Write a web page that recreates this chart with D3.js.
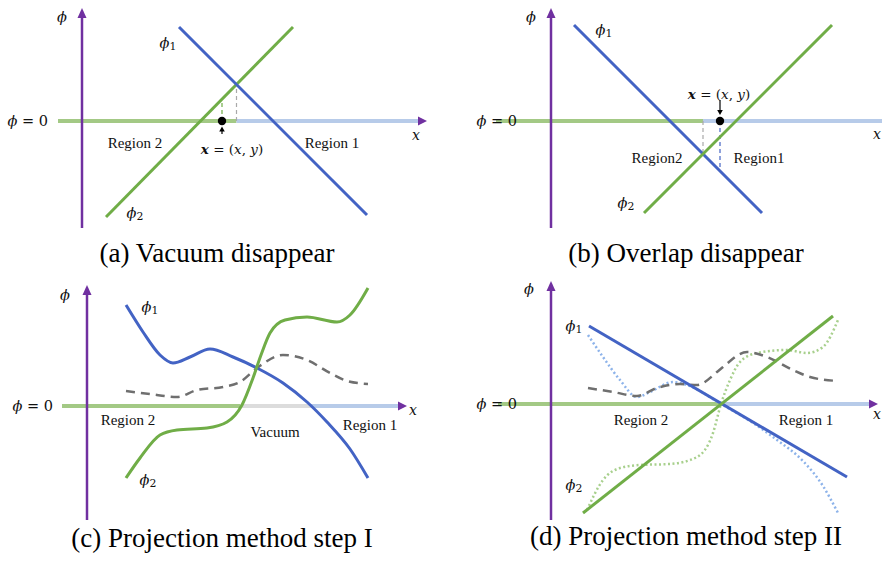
<!DOCTYPE html>
<html>
<head>
<meta charset="utf-8">
<script src="https://cdn.jsdelivr.net/npm/d3@7"></script>
<style>
  body { margin: 0; background: #fff; }
</style>
</head>
<body>
<svg id="fig"></svg>
<script>
// ---- data (units: panel-local, origin where the phi axis meets phi = 0) ----
const captions = ["(a) Vacuum disappear", "(b) Overlap disappear",
                  "(c) Projection method step I", "(d) Projection method step II"];

// (a) vacuum disappear
const aPhi1 = [[9.7, 9.4], [28.5, -9.4]];
const aPhi2 = [[2.4, -9.6], [21.1, 9.4]];
const aCross = [15.45, 3.65];
const aPoint = [14.0, 0];
const aPhi2AtPoint = 2.2;
const aZero = [["region2", -2.4, 15.45], ["region1", 15.45, 34.0]];

// (b) overlap disappear
const bPhi1 = [[2.3, 9.6], [21.1, -9.2]];
const bPhi2 = [[9.3, -9.2], [28.1, 9.6]];
const bCross = [15.2, -3.3];
const bPoint = [16.9, 0];
const bPhi1AtPoint = -4.6;
const bZero = [["region2", -5.5, 15.2], ["region1", 15.2, 34.0]];

// (c) projection step I
const cPhi1 = [[3.9, 10.1], [5.6, 7.4], [7.3, 5.1], [8.6, 4.3], [10.3, 4.9], [12.3, 5.7],
               [14.6, 4.9], [17.0, 3.8], [19.6, 2.3], [22.0, 0.4], [24.0, -1.6],
               [26.3, -4.3], [28.1, -7.2]];
const cPhi2 = [[3.9, -7.2], [5.3, -5.2], [7.3, -2.9], [9.0, -2.4], [12.0, -2.2], [14.0, -1.6],
               [15.5, 0.1], [16.6, 2.8], [17.4, 5.1], [18.3, 7.3], [19.8, 8.6], [22.0, 8.9],
               [25.0, 8.4], [26.3, 9.1], [28.1, 11.8]];
const cMean = [[3.9, 1.5], [6.3, 1.2], [9.0, 0.9], [11.0, 1.6], [13.6, 1.9], [15.3, 2.4],
               [17.0, 3.8], [19.6, 5.1], [22.0, 4.6], [24.3, 3.3], [26.0, 2.5], [28.1, 2.2]];
const cZero = [["region2", -2.5, 15.3], ["vacuum", 15.3, 22.4], ["region1", 22.4, 31.6]];

// (d) projection step II
const dPhi1 = [[3.8, 7.8], [29.6, -7.3]];
const dPhi2 = [[3.2, -10.9], [28.2, 8.8]];
const dPhi1Old = [[3.7, 6.9], [5.2, 4.7], [6.9, 2.4], [8.6, 0.7], [9.9, 1.2], [12.2, 2.2],
                  [13.6, 1.9], [17.0, 0], [19.9, -1.7], [22.6, -3.6], [25.2, -5.7],
                  [27.2, -8.2], [28.7, -10.9]];
const dPhi2Old = [[3.6, -10.6], [5.2, -7.6], [6.9, -6.4], [8.9, -6.1], [11.9, -6.0],
                  [14.6, -5.3], [16.2, -2.9], [17.0, 0], [17.9, 2.4], [18.9, 4.2], [20.6, 5.1],
                  [23.6, 5.4], [25.6, 5.1], [27.2, 5.7], [28.7, 8.4]];
const dMean = [[3.7, 1.6], [6.2, 1.2], [8.6, 0.8], [10.6, 1.6], [12.9, 2.0], [14.6, 1.9],
               [16.6, 3.2], [17.2, 3.7], [19.6, 5.2], [21.6, 4.7], [24.2, 3.4], [25.9, 2.7],
               [28.7, 2.3]];
const dZero = [["region2", -5.3, 17.0], ["region1", 17.0, 31.8]];

// axis extents [bottom, top] of phi axis, and tip of the x arrow
const phiAxis = { a: [-10.7, 11.3], b: [-10.7, 11.3], c: [-11.4, 12.1], d: [-11.6, 12.3] };
const xTip = { a: 34.5, b: 34.6, c: 32.0, d: 32.7 };

// ---- layout / style ----
const W = 882, H = 564;
const origin = { a: [82, 121], b: [551, 121], c: [87, 406], d: [551, 404] };
const col = {
  axis: "#7030a0", phi1: "#4363c4", phi2: "#70ad47",
  region2: "#a3c985", region1: "#b7cbe9", vacuum: "#dcdcdc",
  mean: "#6f6f6f", phi1Old: "#8db3ea", phi2Old: "#a8d08d"
};
const serif = "'Liberation Serif', 'DejaVu Serif'";
const math = "'DejaVu Serif', serif";

const svg = d3.select("#fig").attr("width", W).attr("height", H)
  .attr("viewBox", [0, 0, W, H]);

const x = d3.scaleLinear().domain([0, 10]).range([0, 100]);
const y = d3.scaleLinear().domain([0, 10]).range([0, -100]);

const straight = d3.line().x(d => x(d[0])).y(d => y(d[1]));
const smooth = d3.line().x(d => x(d[0])).y(d => y(d[1])).curve(d3.curveMonotoneX);

function arrowHead(g, px, py, dir, len, half, color) {
  // dir: "right" | "up" | "down"
  let pts;
  if (dir === "right") pts = [[px, py], [px - len, py - half], [px - len, py + half]];
  else if (dir === "up") pts = [[px, py], [px - half, py + len], [px + half, py + len]];
  else pts = [[px, py], [px - half, py - len], [px + half, py - len]];
  g.append("path").attr("d", "M" + pts.join("L") + "Z").attr("fill", color);
}

function phiText(g, ux, uy, sub, size = 14.5) {
  const t = g.append("text")
    .attr("x", x(ux)).attr("y", y(uy))
    .attr("text-anchor", "middle").attr("dominant-baseline", "central")
    .attr("font-family", math).attr("font-style", "italic")
    .attr("font-size", size).attr("fill", "#111");
  t.append("tspan").text("ϕ");
  if (sub) t.append("tspan").attr("font-size", size * 0.75).attr("font-style", "normal")
    .attr("dy", 3).text(sub);
}

function plain(g, ux, uy, str, size = 15) {
  g.append("text").attr("x", x(ux)).attr("y", y(uy))
    .attr("text-anchor", "middle").attr("dominant-baseline", "central")
    .attr("font-family", serif).attr("font-size", size).attr("fill", "#111").text(str);
}

function pointText(g, ux, uy) {
  const t = g.append("text").attr("x", x(ux)).attr("y", y(uy))
    .attr("text-anchor", "middle").attr("dominant-baseline", "central")
    .attr("font-family", math).attr("font-size", 13.5).attr("fill", "#111");
  t.append("tspan").attr("font-style", "italic").attr("font-weight", "bold").text("x");
  t.append("tspan").text(" = (");
  t.append("tspan").attr("font-style", "italic").text("x");
  t.append("tspan").text(", ");
  t.append("tspan").attr("font-style", "italic").text("y");
  t.append("tspan").text(")");
}

function panelBase(key, zero, idx) {
  const g = svg.append("g").attr("id", "panel-" + key)
    .attr("transform", `translate(${origin[key][0]},${origin[key][1]})`);

  // phi = 0 line, coloured by region
  g.append("g").selectAll("line").data(zero).join("line")
    .attr("x1", d => x(d[1])).attr("x2", d => x(d[2]))
    .attr("y1", y(0)).attr("y2", y(0))
    .attr("stroke", d => col[d[0]]).attr("stroke-width", 4);
  arrowHead(g, x(xTip[key]), y(0), "right", 9, 4.5, col.axis);

  // phi axis
  const [lo, hi] = phiAxis[key];
  g.append("line").attr("x1", x(0)).attr("x2", x(0))
    .attr("y1", y(lo)).attr("y2", y(hi) + 6)
    .attr("stroke", col.axis).attr("stroke-width", 2.5);
  arrowHead(g, x(0), y(hi), "up", 10, 4.5, col.axis);

  // axis labels
  g.append("text").attr("x", x(-3.4)).attr("y", y(0))
    .attr("text-anchor", "end").attr("dominant-baseline", "central")
    .attr("font-family", math).attr("font-size", 14.5).attr("fill", "#111")
    .call(t => {
      t.append("tspan").attr("font-style", "italic").text("ϕ");
      t.append("tspan").text(" = 0");
    });

  g.append("text").attr("x", x(13.5)).attr("y", y(-14.1))
    .attr("text-anchor", "middle")
    .attr("font-family", serif).attr("font-size", 27).attr("fill", "#000")
    .text(captions[idx]);
  return g;
}

function xLabel(g, ux, uy) {
  g.append("text").attr("x", x(ux)).attr("y", y(uy))
    .attr("text-anchor", "middle").attr("dominant-baseline", "central")
    .attr("font-family", math).attr("font-style", "italic")
    .attr("font-size", 14).attr("fill", "#111").text("x");
}

function path(g, data, gen, color, width, dash) {
  const p = g.append("path").datum(data).attr("d", gen)
    .attr("fill", "none").attr("stroke", color).attr("stroke-width", width);
  if (dash) p.attr("stroke-dasharray", dash);
  return p;
}

function vDash(g, ux, uTop, color) {
  g.append("line").attr("x1", x(ux)).attr("x2", x(ux))
    .attr("y1", y(0)).attr("y2", y(uTop))
    .attr("stroke", color).attr("stroke-width", 1.2).attr("stroke-dasharray", "4,3");
}

// ---- (a) ----
{
  const g = panelBase("a", aZero, 0);
  vDash(g, aCross[0], aCross[1], "#a9a9a9");
  vDash(g, aPoint[0], aPhi2AtPoint, col.phi2);
  path(g, aPhi2, straight, col.phi2, 3);
  path(g, aPhi1, straight, col.phi1, 3);
  g.append("circle").attr("cx", x(aPoint[0])).attr("cy", y(aPoint[1])).attr("r", 4.2).attr("fill", "#000");
  g.append("line").attr("x1", x(aPoint[0])).attr("x2", x(aPoint[0]))
    .attr("y1", y(-1.3)).attr("y2", y(-0.85)).attr("stroke", "#000").attr("stroke-width", 1.2);
  arrowHead(g, x(aPoint[0]), y(-0.55), "up", 5, 2.8, "#000");
  phiText(g, -2.0, 10.4, null);
  xLabel(g, 33.4, -1.4);
  phiText(g, 8.6, 7.8, "1");
  phiText(g, 5.3, -9.2, "2");
  plain(g, 5.3, -2.2, "Region 2");
  plain(g, 25.0, -2.2, "Region 1");
  pointText(g, 15.0, -2.8);
}

// ---- (b) ----
{
  const g = panelBase("b", bZero, 1);
  vDash(g, bCross[0], bCross[1], "#a9a9a9");
  vDash(g, bPoint[0], bPhi1AtPoint, col.phi1);
  path(g, bPhi1, straight, col.phi1, 3);
  path(g, bPhi2, straight, col.phi2, 3);
  g.append("circle").attr("cx", x(bPoint[0])).attr("cy", y(bPoint[1])).attr("r", 4.2).attr("fill", "#000");
  g.append("line").attr("x1", x(bPoint[0])).attr("x2", x(bPoint[0]))
    .attr("y1", y(2.1)).attr("y2", y(1.0)).attr("stroke", "#000").attr("stroke-width", 1.2);
  arrowHead(g, x(bPoint[0]), y(0.6), "down", 5, 2.8, "#000");
  phiText(g, -2.0, 10.4, null);
  xLabel(g, 32.6, -1.3);
  phiText(g, 5.3, 9.1, "1");
  phiText(g, 7.5, -8.2, "2");
  plain(g, 10.6, -3.7, "Region2");
  plain(g, 20.8, -3.7, "Region1");
  pointText(g, 16.8, 2.7);
}

// ---- (c) ----
{
  const g = panelBase("c", cZero, 2);
  path(g, cMean, smooth, col.mean, 2.5, "9,6");
  path(g, cPhi1, smooth, col.phi1, 3);
  path(g, cPhi2, smooth, col.phi2, 3);
  phiText(g, -2.2, 11.1, null);
  xLabel(g, 32.6, -0.4);
  phiText(g, 6.3, 9.9, "1");
  phiText(g, 6.1, -7.4, "2");
  plain(g, 4.1, -1.4, "Region 2");
  plain(g, 18.8, -2.6, "Vacuum");
  plain(g, 28.3, -1.9, "Region 1");
}

// ---- (d) ----
{
  const g = panelBase("d", dZero, 3);
  path(g, dPhi1Old, smooth, col.phi1Old, 2.5, "2,2.5");
  path(g, dPhi2Old, smooth, col.phi2Old, 2.5, "2,2.5");
  path(g, dMean, smooth, col.mean, 2.5, "9,6");
  path(g, dPhi1, straight, col.phi1, 3);
  path(g, dPhi2, straight, col.phi2, 3);
  phiText(g, -2.2, 11.5, null);
  xLabel(g, 32.6, -1.0);
  phiText(g, 2.3, 7.8, "1");
  phiText(g, 2.3, -8.1, "2");
  plain(g, 9.0, -1.6, "Region 2");
  plain(g, 25.5, -1.6, "Region 1");
}
</script>
</body>
</html>
